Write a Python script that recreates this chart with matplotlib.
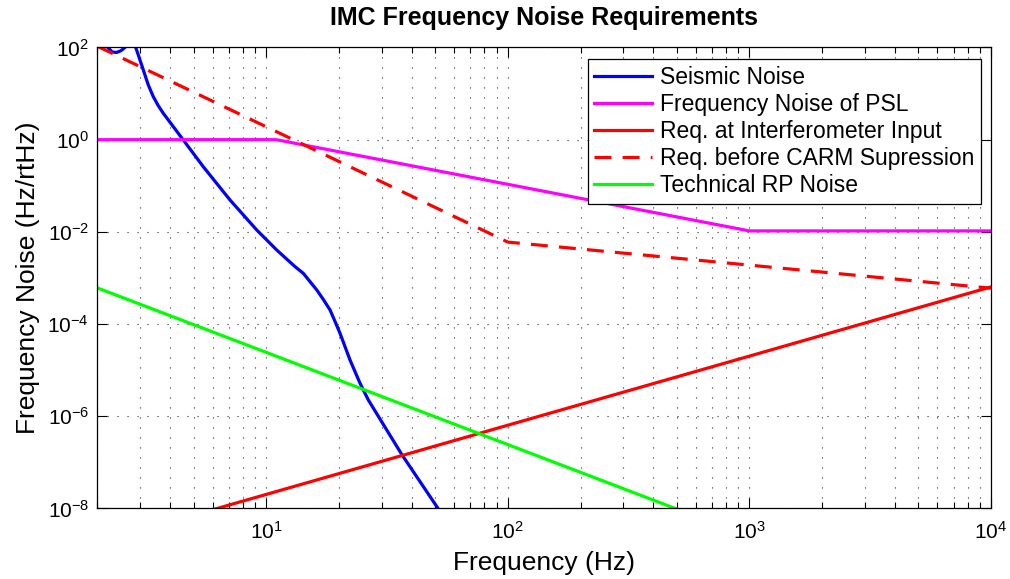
import matplotlib
matplotlib.use("Agg")
import matplotlib.pyplot as plt
import numpy as np
from matplotlib.ticker import LogLocator, NullLocator

plt.rcParams['font.family'] = ['Liberation Sans', 'DejaVu Sans']
plt.rcParams['mathtext.fontset'] = 'custom'
plt.rcParams['mathtext.rm'] = 'Liberation Sans'
plt.rcParams['mathtext.it'] = 'Liberation Sans:italic'
plt.rcParams['mathtext.bf'] = 'Liberation Sans:bold'

# seismic noise
f_seis = [2.0, 2.15, 2.21, 2.3, 2.4, 2.5, 2.6, 2.7, 2.8, 2.905, 3.096, 3.246, 3.405, 3.571,
          3.745, 4.532, 5.484, 7.075, 9.126, 11.04, 13.15, 14.23, 16.17, 17.22, 18.36,
          19.25, 20.19, 22.21, 24.43, 26.44, 36.47, 50.9, 60.0]
seis = [300, 140, 100, 80, 78, 85, 100, 160, 150, 88, 32.5, 15.4, 8.57, 5.46,
        3.74, 0.985, 0.259, 0.0492, 0.0110, 0.00405, 1.76e-3, 1.26e-3, 5.5e-4, 3.42e-4, 2.02e-4,
        1.14e-4, 6.3e-5, 1.66e-5, 5.2e-6, 2.26e-6, 1.45e-7, 1.08e-8, 3.0e-9]

# frequency noise of the PSL
f_psl = [2, 11, 1000, 10000]
psl = [1.0, 1.0, 0.0105, 0.0105]

# requirement at interferometer input
f_req = [2, 10, 100, 1000, 10000]
req = [1.81e-9, 2.02e-8, 6.4e-7, 2.02e-5, 6.4e-4]

# requirement before CARM suppression
f_carm = [2, 10, 100, 1000, 10000]
carm = [106, 1.9, 0.006, 0.0019, 0.0006]

# technical radiation pressure noise
f_rp = [2, 10, 100, 1000]
rp = [6.07e-4, 2.43e-5, 2.43e-7, 2.43e-9]

fig = plt.figure(figsize=(10.1, 5.79), dpi=100)
ax = fig.add_axes([0.0965, 0.1218, 0.8847, 0.7962])

lw = 2.3
ax.loglog(f_seis, seis, color=(0, 0, 1), lw=lw, label='Seismic Noise')
ax.loglog(f_psl, psl, color=(1, 0, 1), lw=lw, label='Frequency Noise of PSL')
ax.loglog(f_req, req, color=(1, 0, 0), lw=lw, label='Req. at Interferometer Input')
ax.loglog(f_carm, carm, color=(1, 0, 0), lw=lw, dashes=(5.3, 3.5), label='Req. before CARM Supression')
ax.loglog(f_rp, rp, color=(0, 1, 0), lw=lw, label='Technical RP Noise')

ax.set_xlim(2, 1e4)
ax.set_ylim(1e-8, 1e2)
ax.set_yticks([1e-8, 1e-6, 1e-4, 1e-2, 1e0, 1e2])
ax.yaxis.set_minor_locator(NullLocator())
ax.xaxis.set_major_locator(LogLocator(base=10, numticks=10))
ax.xaxis.set_minor_locator(LogLocator(base=10, subs=np.arange(2, 10), numticks=20))

ax.grid(True, which='major', axis='both', color='#303030', lw=0.8, linestyle=(0, (1, 8)))
ax.grid(True, which='minor', axis='x', color='#303030', lw=0.8, linestyle=(0, (1, 8)))

ax.tick_params(which='both', direction='in', top=True, right=True, labelsize=15)
ax.tick_params(which='major', length=7, width=0.8)
ax.tick_params(which='minor', length=4, width=0.8)
ax.tick_params(axis='x', which='both', pad=9)
ax.tick_params(axis='y', which='both', pad=6)
for s in ax.spines.values():
    s.set_linewidth(0.9)

ax.set_title('IMC Frequency Noise Requirements', fontsize=18, fontweight='bold', pad=16)
ax.set_xlabel('Frequency (Hz)', fontsize=19, labelpad=6)
ax.set_ylabel('Frequency Noise (Hz/rtHz)', fontsize=19, labelpad=5)

leg = ax.legend(loc='upper right', bbox_to_anchor=(0.9888, 0.974), fontsize=16.5,
                fancybox=False, framealpha=1, edgecolor='black', borderpad=0.3,
                labelspacing=0.17, handlelength=2.5, handletextpad=0.35, borderaxespad=0)
leg.get_frame().set_linewidth(0.9)

fig.savefig('out.png', dpi=100)
